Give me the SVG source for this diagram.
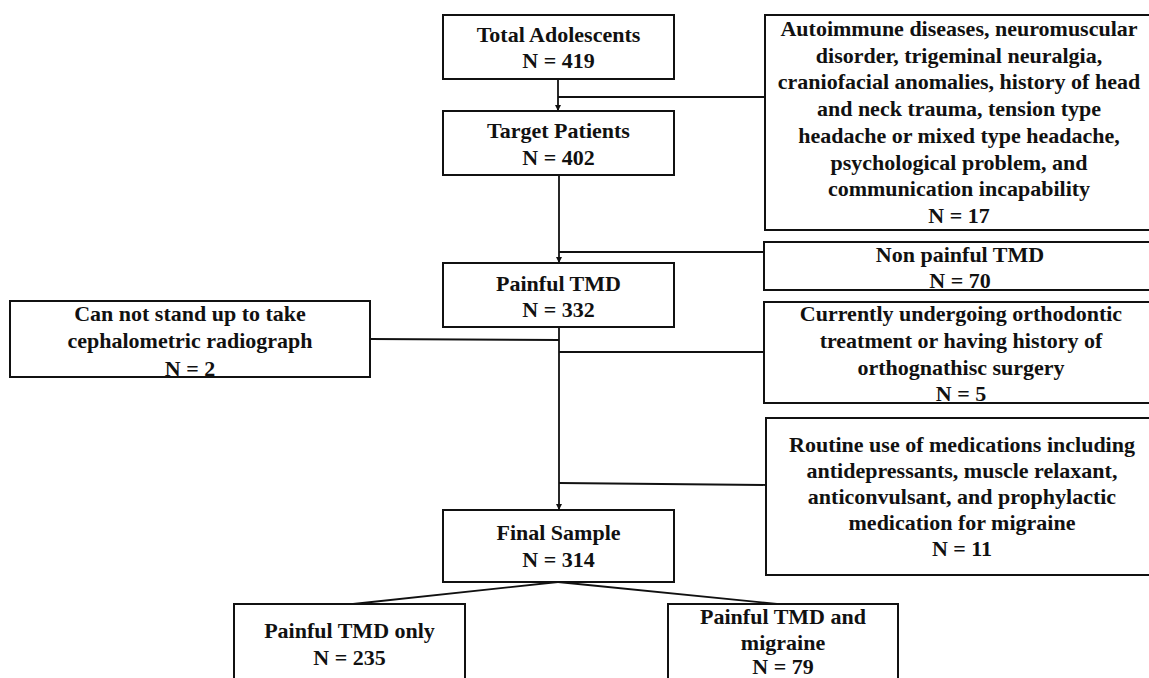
<svg xmlns="http://www.w3.org/2000/svg" width="1149" height="678" viewBox="0 0 1149 678">
<style>
.box{fill:#fff;stroke:#111;stroke-width:2}
.t{font-family:"Liberation Serif","Times New Roman",serif;font-weight:bold;font-size:22px;fill:#111;text-anchor:middle}
.ln{fill:none;stroke:#111;stroke-width:1.8}
</style>
<defs>
<marker id="arr" viewBox="0 0 10 10" refX="10" refY="5" markerWidth="6" markerHeight="6" markerUnits="userSpaceOnUse" orient="auto">
<path d="M0,0 L10,5 L0,10 Z" fill="#111"/>
</marker>
</defs>
<rect width="1149" height="678" fill="#fff"/>
<g id="connectors">
<line class="ln" x1="558" y1="79" x2="558" y2="111" marker-end="url(#arr)"/>
<line class="ln" x1="558" y1="97" x2="765" y2="97"/>
<line class="ln" x1="559" y1="175" x2="559" y2="263" marker-end="url(#arr)"/>
<line class="ln" x1="559" y1="252" x2="764" y2="252"/>
<line class="ln" x1="559" y1="327" x2="559" y2="510" marker-end="url(#arr)"/>
<line class="ln" x1="370" y1="339" x2="559" y2="340"/>
<line class="ln" x1="559" y1="352" x2="764" y2="352"/>
<line class="ln" x1="559" y1="483" x2="766" y2="485"/>
<line class="ln" x1="558" y1="582" x2="353" y2="604"/>
<line class="ln" x1="558" y1="582" x2="777" y2="604"/>
</g>
<g id="total">
<rect class="box" x="443" y="15" width="231" height="64"/>
<text class="t" x="558.5" y="42">Total Adolescents</text>
<text class="t" x="558.5" y="68">N = 419</text>
</g>
<g id="target">
<rect class="box" x="443" y="111" width="231" height="64"/>
<text class="t" x="558.5" y="138">Target Patients</text>
<text class="t" x="558.5" y="165">N = 402</text>
</g>
<g id="painful">
<rect class="box" x="443" y="263" width="231" height="64"/>
<text class="t" x="558.5" y="291">Painful TMD</text>
<text class="t" x="558.5" y="317">N = 332</text>
</g>
<g id="final">
<rect class="box" x="443" y="510" width="231" height="72"/>
<text class="t" x="558.5" y="540">Final Sample</text>
<text class="t" x="558.5" y="567">N = 314</text>
</g>
<g id="excl1">
<rect class="box" x="765" y="15" width="390" height="215"/>
<text class="t" x="959" y="36">Autoimmune diseases, neuromuscular</text>
<text class="t" x="959" y="62.7">disorder, trigeminal neuralgia,</text>
<text class="t" x="959" y="89.4">craniofacial anomalies, history of head</text>
<text class="t" x="959" y="116">and neck trauma, tension type</text>
<text class="t" x="959" y="142.8">headache or mixed type headache,</text>
<text class="t" x="959" y="169.5">psychological problem, and</text>
<text class="t" x="959" y="196">communication incapability</text>
<text class="t" x="959" y="223">N = 17</text>
</g>
<g id="excl2">
<rect class="box" x="764" y="242" width="392" height="48"/>
<text class="t" x="960" y="262">Non painful TMD</text>
<text class="t" x="960" y="288">N = 70</text>
</g>
<g id="excl3">
<rect class="box" x="10" y="301" width="360" height="76"/>
<text class="t" x="190" y="321">Can not stand up to take</text>
<text class="t" x="190" y="348">cephalometric radiograph</text>
<text class="t" x="190" y="376">N = 2</text>
</g>
<g id="excl4">
<rect class="box" x="764" y="302" width="392" height="101"/>
<text class="t" x="961" y="321">Currently undergoing orthodontic</text>
<text class="t" x="961" y="348">treatment or having history of</text>
<text class="t" x="961" y="375">orthognathisc surgery</text>
<text class="t" x="961" y="401">N = 5</text>
</g>
<g id="excl5">
<rect class="box" x="766" y="418" width="392" height="157"/>
<text class="t" x="962" y="452">Routine use of medications including</text>
<text class="t" x="962" y="478">antidepressants, muscle relaxant,</text>
<text class="t" x="962" y="504">anticonvulsant, and prophylactic</text>
<text class="t" x="962" y="530">medication for migraine</text>
<text class="t" x="962" y="556">N = 11</text>
</g>
<g id="only">
<rect class="box" x="234" y="604" width="231" height="100"/>
<text class="t" x="349.5" y="638">Painful TMD only</text>
<text class="t" x="349.5" y="665">N = 235</text>
</g>
<g id="migraine">
<rect class="box" x="668" y="604" width="230" height="100"/>
<text class="t" x="783" y="624">Painful TMD and</text>
<text class="t" x="783" y="650">migraine</text>
<text class="t" x="783" y="674">N = 79</text>
</g>
</svg>
